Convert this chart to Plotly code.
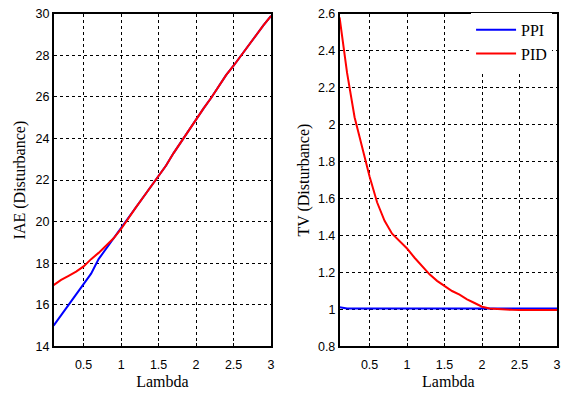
import plotly.graph_objects as go

lam = [0.1,0.2,0.3,0.4,0.5,0.6,0.7,0.8,0.9,1.0,1.1,1.2,1.3,1.4,1.5,1.6,1.7,1.8,1.9,2.0,
       2.1,2.2,2.3,2.4,2.5,2.6,2.7,2.8,2.9,3.0]
iae_ppi = [15.0,15.5,16.0,16.5,17.0,17.5,18.2,18.7,19.2,19.65,20.2,20.7,21.2,21.7,22.2,22.7,23.3,23.85,24.4,24.9,
           25.45,25.95,26.5,27.05,27.5,28.0,28.5,29.0,29.45,29.9]
iae_pid = [16.95,17.2,17.4,17.6,17.85,18.2,18.5,18.85,19.2,19.65,20.2,20.7,21.2,21.7,22.2,22.7,23.3,23.85,24.4,24.9,
           25.45,25.95,26.5,27.05,27.5,28.0,28.5,29.0,29.45,29.9]
tv_ppi = [1.012,1.006,1.005,1.005,1.005,1.005,1.005,1.005,1.005,1.005,1.005,1.005,1.005,1.005,1.005,1.005,1.005,1.005,1.005,1.005,
          1.005,1.005,1.005,1.005,1.005,1.005,1.005,1.005,1.005,1.005]
tv_pid = [2.58,2.28,2.04,1.88,1.72,1.58,1.48,1.41,1.37,1.33,1.28,1.235,1.19,1.155,1.125,1.10,1.08,1.055,1.035,1.015,
          1.005,1.004,1.003,0.998,0.997,0.997,0.997,0.997,0.997,0.997]

x_ticks = [0.5, 1, 1.5, 2, 2.5, 3]
x_labels = ["0.5", "1", "1.5", "2", "2.5", "3"]
iae_ticks = [14, 16, 18, 20, 22, 24, 26, 28, 30]
tv_ticks = [0.8, 1.0, 1.2, 1.4, 1.6, 1.8, 2.0, 2.2, 2.4, 2.6]
tv_labels = ["0.8", "1", "1.2", "1.4", "1.6", "1.8", "2", "2.2", "2.4", "2.6"]

W, H = 565, 393
fig = go.Figure()
fig.add_trace(go.Scatter(x=lam, y=iae_ppi, mode="lines", line=dict(color="#0000ff", width=2),
                         showlegend=False, xaxis="x", yaxis="y"))
fig.add_trace(go.Scatter(x=lam, y=iae_pid, mode="lines", line=dict(color="#ff0000", width=2),
                         showlegend=False, xaxis="x", yaxis="y"))
fig.add_trace(go.Scatter(x=lam, y=tv_ppi, mode="lines", line=dict(color="#0000ff", width=2),
                         name="PPI", xaxis="x2", yaxis="y2"))
fig.add_trace(go.Scatter(x=lam, y=tv_pid, mode="lines", line=dict(color="#ff0000", width=2),
                         name="PID", xaxis="x2", yaxis="y2"))

tickfont = dict(family="Liberation Sans, Arial", size=12.5, color="black")
titlefont = dict(family="Liberation Serif, Times New Roman", size=16, color="black")
common = dict(showline=True, linecolor="black", linewidth=1.5, mirror=True,
              ticks="inside", ticklen=4, tickcolor="black",
              showgrid=True, gridcolor="black", griddash="dot", gridwidth=1,
              zeroline=False, tickfont=tickfont)

yb = (H - 352) / H
yt = (H - 7) / H
fig.update_layout(
    width=W, height=H, margin=dict(l=0, r=0, t=0, b=0),
    paper_bgcolor="white", plot_bgcolor="white",
    xaxis=dict(domain=[54 / W, 273 / W], range=[0.1, 3], tickvals=x_ticks, ticktext=x_labels,
               ticklabelstandoff=6,
               title=dict(text="Lambda", font=titlefont, standoff=5), anchor="y", **common),
    yaxis=dict(domain=[yb, yt], range=[14, 30], tickvals=iae_ticks,
               title=dict(text="IAE (Disturbance)", font=titlefont, standoff=6), anchor="x", **common),
    xaxis2=dict(domain=[342 / W, 561 / W], range=[0.1, 3], tickvals=x_ticks, ticktext=x_labels,
                ticklabelstandoff=6,
                title=dict(text="Lambda", font=titlefont, standoff=5), anchor="y2", **common),
    yaxis2=dict(domain=[yb, yt], range=[0.8, 2.6], tickvals=tv_ticks, ticktext=tv_labels,
                title=dict(text="TV (Disturbance)", font=titlefont, standoff=4), anchor="x2", **common),
    legend=dict(x=556 / W, xanchor="right", y=1 - 6 / H, yanchor="top",
                bgcolor="white", borderwidth=0,
                font=dict(family="Liberation Serif, Times New Roman", size=16, color="black"),
                itemwidth=40, tracegroupgap=0),
)
fig.write_html("out.html")
